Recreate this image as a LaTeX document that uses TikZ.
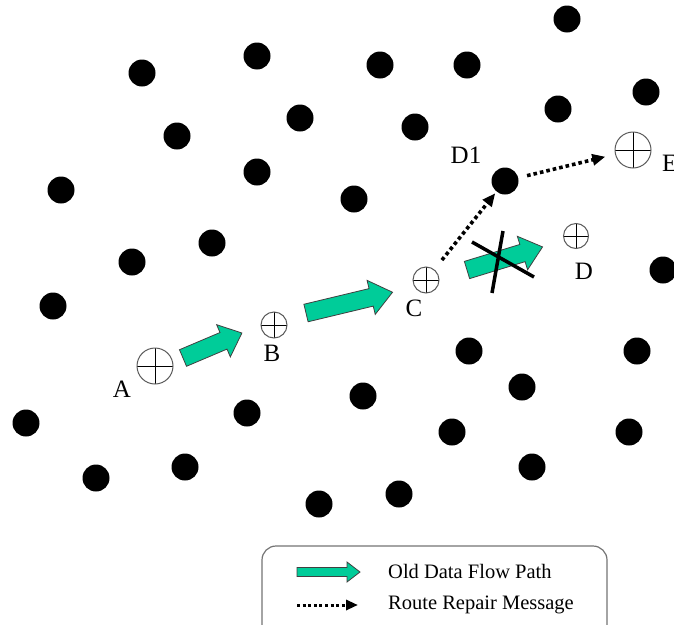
\documentclass[tikz,border=0pt]{standalone}
\usepackage{fontspec}
\setmainfont{Liberation Serif}
\usetikzlibrary{arrows.meta}

\definecolor{flowgreen}{RGB}{0,204,153}
\definecolor{rimgray}{RGB}{90,90,90}

\tikzset{
  dot/.style={circle, fill=black, minimum size=27pt, inner sep=0pt},
  site/.style={circle, draw=rimgray, line width=1pt, minimum size=#1, inner sep=0pt,
    path picture={\draw[black, line width=0.9pt]
      (path picture bounding box.north) -- (path picture bounding box.south)
      (path picture bounding box.west) -- (path picture bounding box.east);}},
  lbl/.style={font=\fontsize{25}{30}\selectfont, inner sep=0pt},
  legtext/.style={font=\fontsize{20.5}{24}\selectfont, inner sep=0pt, anchor=west},
  flow/.style={fill=flowgreen, draw=black!75, line width=0.8pt, line join=miter},
  repair/.style={line width=3.6pt, dash pattern=on 3.6pt off 3pt,
    -{Triangle[length=13pt,width=11pt]}},
  legrepair/.style={line width=3pt, dash pattern=on 3pt off 2.6pt,
    -{Triangle[length=12pt,width=10pt]}},
  cross/.style={line width=3.5pt, black},
  legendbox/.style={draw=black!55, line width=1.2pt, rounded corners=14pt}
}

% block arrow: {tail}{angle}{length}{shaft half width}{head half width}{head length}
\newcommand\flowarrow[6]{%
  \begin{scope}[shift={#1}, rotate=#2]
    \draw[flow] (0,-#4) -- ({#3-#6},-#4) -- ({#3-#6},-#5) -- (#3,0)
      -- ({#3-#6},#5) -- ({#3-#6},#4) -- (0,#4) -- cycle;
  \end{scope}}

\begin{document}
\begin{tikzpicture}[x=1pt, y=-1pt]
  \useasboundingbox (0,0) rectangle (674,624);
  \clip (0,0) rectangle (674,624);

  % ordinary sensor nodes
  \foreach \px/\py [count=\i] in {
      567/19, 142/73, 257/56, 380/65, 467/65, 646/92, 558/109, 300/118,
      415/127, 177/136, 61/190, 257/172, 354/199, 212/243, 132/262,
      663/270, 53/306, 469/351, 637/351, 522/387, 363/396, 247/413,
      26/423, 452/432, 629/432, 185/467, 96/478, 532/467, 399/494, 319/504}
    \node[dot, name=n\i] at (\px,\py) {};
  \node[dot] (d1) at (505,181) {};

  % nodes on the data flow path
  \node[site=36pt] (a) at (155,366) {};
  \node[site=26pt] (b) at (274,325) {};
  \node[site=26pt] (c) at (426,280) {};
  \node[site=25pt] (d) at (576,236) {};
  \node[site=36pt] (e) at (633,150) {};

  % labels
  \node[lbl] (la) at (122,389) {A};
  \node[lbl] (lb) at (272,353) {B};
  \node[lbl] (lc) at (414,308) {C};
  \node[lbl] (ld) at (584,271) {D};
  \node[lbl] (ld1) at (466,155) {D1};
  \node[lbl, anchor=west] (le) at (662,163) {E};

  % old data flow path
  \flowarrow{(183,358)}{23}{64}{9}{17.5}{20}
  \flowarrow{(306,313)}{13.5}{89}{9}{17.5}{22}
  \flowarrow{(467,270)}{17}{79}{9}{17.5}{21}

  % broken link C-D
  \draw[cross] (472,242) -- (534,277);
  \draw[cross] (503,231) -- (492,293);

  % route repair messages
  \draw[repair, shorten <=12pt, shorten >=2pt] (c) -- (d1);
  \draw[repair, shorten <=9pt, shorten >=10pt] (d1) -- (e);

  % legend
  \draw[legendbox] (262,546) rectangle (607,640);
  \flowarrow{(297,572)}{0}{63}{4.5}{10}{13}
  \node[legtext] (t1) at (388,571) {Old Data Flow Path};
  \coordinate (r0) at (297,605);
  \coordinate (r1) at (358,605);
  \draw[legrepair] (r0) -- (r1);
  \node[legtext] (t2) at (388,605) {Route Repair Message};
\end{tikzpicture}
\end{document}
